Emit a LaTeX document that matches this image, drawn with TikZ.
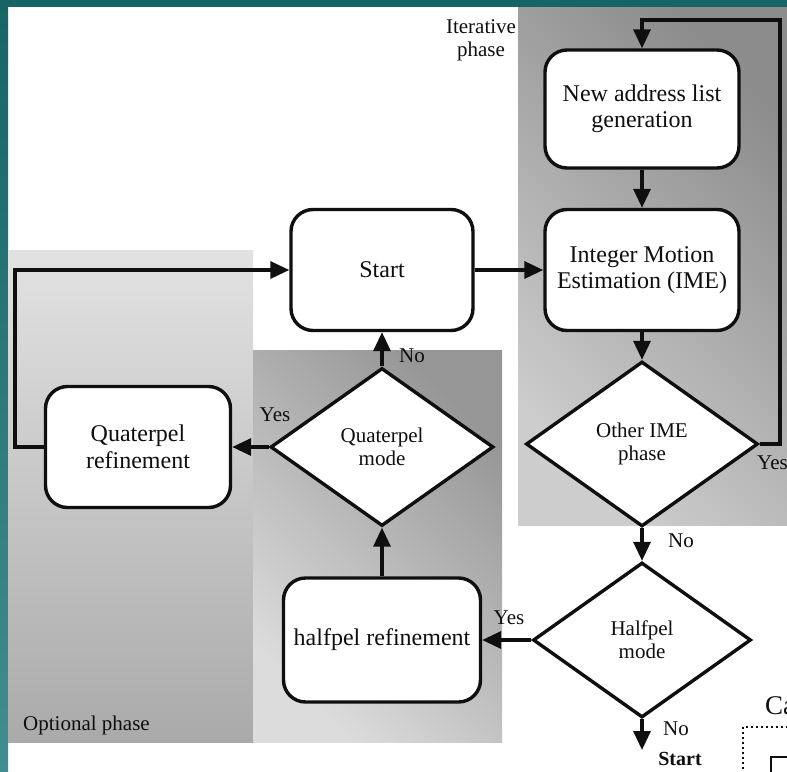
\documentclass[tikz,border=0pt]{standalone}
\usepackage{fontspec}
\setmainfont{Liberation Serif}
\usetikzlibrary{shapes.geometric,arrows.meta}

\definecolor{frameteal}{RGB}{22,100,100}
\definecolor{frametealb}{RGB}{64,142,142}
\definecolor{inkc}{RGB}{15,15,15}
\definecolor{itdark}{RGB}{140,140,140}
\definecolor{itlight}{RGB}{205,205,205}
\definecolor{opltop}{RGB}{226,226,226}
\definecolor{oplbot}{RGB}{170,170,170}
\definecolor{oprdark}{RGB}{150,150,150}
\definecolor{oprlight}{RGB}{220,220,220}

\begin{document}
\begin{tikzpicture}[x=1pt,y=-1pt,
  box/.style={draw=inkc, line width=3.4pt, rounded corners=22pt, fill=white,
    align=center, text=inkc, font=\fontsize{24}{26.5}\selectfont, inner sep=0pt},
  decision/.style={diamond, draw=inkc, line width=3.4pt, fill=white,
    align=center, text=inkc, font=\fontsize{21}{23}\selectfont, inner sep=0pt},
  flow/.style={draw=inkc, line width=3.4pt, -{Triangle[length=19pt,width=17pt]}},
  lbl/.style={font=\fontsize{21}{23}\selectfont, text=inkc, inner sep=0pt},
]
\useasboundingbox (0,0) rectangle (787,771);
\clip (0,0) rectangle (787,771);
\fill[white] (0,0) rectangle (787,771);

% frame
\fill[frameteal] (0,0) rectangle (787,7);
\shade[top color=frameteal, bottom color=frametealb] (0,0) rectangle (8,771);

% phase backgrounds
\shade[top color=itdark, bottom color=itlight, shading angle=-45] (518,7) rectangle (787,525);
\shade[top color=opltop, bottom color=oplbot] (8,250) rectangle (253,742);
\shade[top color=oprdark, bottom color=oprlight, shading angle=-45] (253,350) rectangle (502,742);

\node[lbl, align=center] (itlabel) at (481,40) {Iterative\\phase};
\node[lbl, anchor=base west] (optlabel) at (23,730) {Optional phase};

% process boxes
\node[box, minimum width=194pt, minimum height=118pt] (newaddr) at (642,109) {New address list\\generation};
\node[box, minimum width=194pt, minimum height=121pt] (ime) at (642,270) {Integer Motion\\Estimation (IME)};
\node[box, minimum width=182pt, minimum height=121pt] (start) at (382,270) {Start};
\node[box, minimum width=185pt, minimum height=121pt] (quatref) at (138,447) {Quaterpel\\refinement};
\node[box, minimum width=197pt, minimum height=124pt] (halfref) at (382,640) {halfpel refinement};

% decisions
\node[decision, minimum width=232pt, minimum height=165pt] (other) at (642,444) {Other IME\\phase};
\node[decision, minimum width=218pt, minimum height=155pt] (halfmode) at (642,640) {Halfpel\\mode};
\node[decision, minimum width=223pt, minimum height=158pt] (quatmode) at (382,447) {Quaterpel\\mode};

% loop corners and free end
\coordinate (loopR) at (780,20);
\coordinate (loopL) at (15,270);
\coordinate (exitS) at (642,750);

% connectors
\draw[flow] (start.east) -- (ime.west);
\draw[flow] (newaddr.south) -- (ime.north);
\draw[flow] (ime.south) -- (other.north);
\draw[flow] (other.east) -| (loopR) -| (newaddr.north);
\draw[flow] (other.south) -- (halfmode.north);
\draw[flow] (halfmode.west) -- (halfref.east);
\draw[flow] (halfmode.south) -- (exitS);
\draw[flow] (halfref.north) -- (quatmode.south);
\draw[flow] (quatmode.north) -- (start.south);
\draw[flow] (quatmode.west) -- (quatref.east);
\draw[flow] (quatref.west) -| (loopL) -- (start.west);

% branch labels
\node[lbl] (yesQ) at (275,415) {Yes};
\node[lbl] (noQ) at (412,356) {No};
\node[lbl, anchor=west] (yesO) at (757,463) {Yes};
\node[lbl] (noO) at (681,541) {No};
\node[lbl] (yesH) at (509,618) {Yes};
\node[lbl] (noH) at (676,729) {No};
\node[lbl, font=\fontsize{20}{22}\selectfont\bfseries] (startlbl) at (680,759) {Start};

% neighbouring figure at the lower right
\node[anchor=base west, inner sep=0pt, text=inkc, font=\fontsize{27}{29}\selectfont] (catext) at (765,714) {Ca};
\draw[inkc, line width=1.5pt, dash pattern=on 2pt off 3pt] (743,727) rectangle (820,820);
\draw[inkc, line width=1.8pt] (771,757) rectangle (820,820);
\end{tikzpicture}
\end{document}
